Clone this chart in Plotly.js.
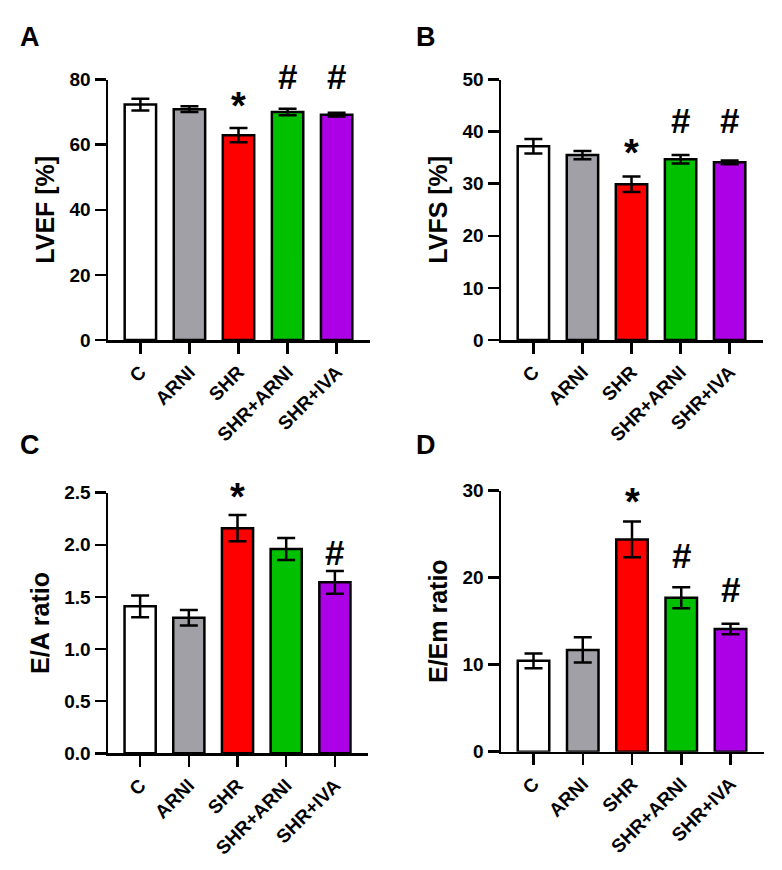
<!DOCTYPE html>
<html>
<head>
<meta charset="utf-8">
<script src="https://cdn.plot.ly/plotly-3.0.1.min.js"></script>
<style>html,body{margin:0;padding:0;background:#fff;}#chart{width:782px;height:870px;}</style>
</head>
<body>
<div id="chart"></div>
<script>
// Categories and colours
const groups = ["C", "ARNI", "SHR", "SHR+ARNI", "SHR+IVA"];
const barColors = ["#ffffff", "#a0a0a6", "#ff0000", "#00c000", "#ac00e6"];

// Panel A: LVEF [%]
const lvefMean = [72.3, 70.9, 62.9, 70.0, 69.2];
const lvefSem  = [1.8, 0.9, 2.2, 1.0, 0.6];
const lvefMarks = ["", "", "*", "#", "#"];

// Panel B: LVFS [%]
const lvfsMean = [37.2, 35.5, 29.9, 34.7, 34.1];
const lvfsSem  = [1.4, 0.8, 1.5, 0.8, 0.35];
const lvfsMarks = ["", "", "*", "#", "#"];

// Panel C: E/A ratio
const eaMean = [1.41, 1.30, 2.16, 1.96, 1.64];
const eaSem  = [0.105, 0.075, 0.125, 0.105, 0.11];
const eaMarks = ["", "", "*", "", "#"];

// Panel D: E/Em ratio
const eemMean = [10.45, 11.7, 24.4, 17.7, 14.1];
const eemSem  = [0.85, 1.45, 2.05, 1.2, 0.6];
const eemMarks = ["", "", "*", "#", "#"];

// Panel letters and axis titles
const panelLetters = ["A", "B", "C", "D"];
const yTitles = ["LVEF [%]", "LVFS [%]", "E/A ratio", "E/Em ratio"];
const yRanges = [[0, 80], [0, 50], [0, 2.5], [0, 30]];
const yDtick = [20, 10, 0.5, 10];
const yFormat = ["", "", ".1f", ""];
// height (in data units) of the significance marks in each panel, per group
const markY = [
  [0, 0, 72.0, 80.8, 80.8],
  [0, 0, 35.9, 42.2, 42.2],
  [0, 0, 2.46, 0, 1.93],
  [0, 0, 28.7, 22.5, 18.7]
];

const means = [lvefMean, lvfsMean, eaMean, eemMean];
const sems = [lvefSem, lvfsSem, eaSem, eemSem];
const marks = [lvefMarks, lvfsMarks, eaMarks, eemMarks];

const FONT = "Arial, 'Liberation Sans', Helvetica, sans-serif";
const W = 782, H = 870;
// panel plot areas in pixels: [left, right, top, bottom]
const boxes = [
  [108, 370, 79.5, 340],
  [501, 763, 79.5, 340],
  [108, 368, 492.7, 753.3],
  [501, 764, 490.7, 751.7]
];
const letterPos = [[30, 37], [426, 37], [30, 445], [426, 445]];

const data = [];
const layout = {
  width: W, height: H,
  margin: {l: 0, r: 0, t: 0, b: 0, autoexpand: false},
  paper_bgcolor: "#fff", plot_bgcolor: "rgba(0,0,0,0)",
  showlegend: false,
  font: {family: FONT, color: "#000"},
  annotations: []
};

for (let p = 0; p < 4; p++) {
  const sfx = p === 0 ? "" : String(p + 1);
  data.push({
    type: "bar",
    x: groups,
    y: means[p],
    xaxis: "x" + sfx,
    yaxis: "y" + sfx,
    width: 0.64,
    marker: {color: barColors, line: {color: "#000", width: 2.5}},
    error_y: {type: "data", array: sems[p], visible: true, color: "#000", thickness: 2.5, width: 9},
    cliponaxis: false,
    hoverinfo: "skip"
  });
  const b = boxes[p];
  layout["xaxis" + sfx] = {
    domain: [b[0] / W, b[1] / W],
    anchor: "y" + sfx,
    type: "category",
    range: [-0.66, 4.68],
    showline: true, linecolor: "#000", linewidth: 2.5,
    ticks: "outside", ticklen: 11, tickwidth: 2.5, tickcolor: "#000",
    tickangle: -45,
    tickfont: {family: FONT, size: 19, color: "#000", weight: "bold"},
    showgrid: false, zeroline: false, fixedrange: true,
    automargin: false
  };
  layout["yaxis" + sfx] = {
    domain: [1 - b[3] / H, 1 - b[2] / H],
    anchor: "x" + sfx,
    range: yRanges[p],
    dtick: yDtick[p], tick0: 0,
    tickformat: yFormat[p],
    showline: true, linecolor: "#000", linewidth: 2.5,
    ticks: "outside", ticklen: 11, tickwidth: 2.5, tickcolor: "#000",
    tickfont: {family: FONT, size: 19, color: "#000", weight: "bold"},
    showgrid: false, zeroline: false, fixedrange: true,
    automargin: false,
    title: {text: yTitles[p], font: {family: FONT, size: 25, color: "#000", weight: "bold"}, standoff: 8}
  };
  // significance marks (height converted to a fraction of the y axis)
  for (let i = 0; i < groups.length; i++) {
    if (!marks[p][i]) continue;
    const isStar = marks[p][i] === "*";
    layout.annotations.push({
      xref: "x" + sfx, yref: "y" + sfx + " domain",
      x: groups[i], y: (markY[p][i] - yRanges[p][0]) / (yRanges[p][1] - yRanges[p][0]),
      text: marks[p][i], showarrow: false,
      xanchor: "center", yanchor: "middle",
      font: {family: FONT, size: isStar ? 38 : 35, color: "#000", weight: "bold"}
    });
  }
  // panel letter
  layout.annotations.push({
    xref: "paper", yref: "paper",
    x: letterPos[p][0] / W, y: 1 - letterPos[p][1] / H,
    text: panelLetters[p], showarrow: false,
    xanchor: "center", yanchor: "middle",
    font: {family: FONT, size: 27, color: "#000", weight: "bold"}
  });
}

Plotly.newPlot("chart", data, layout, {staticPlot: true, displayModeBar: false});
</script>
</body>
</html>
